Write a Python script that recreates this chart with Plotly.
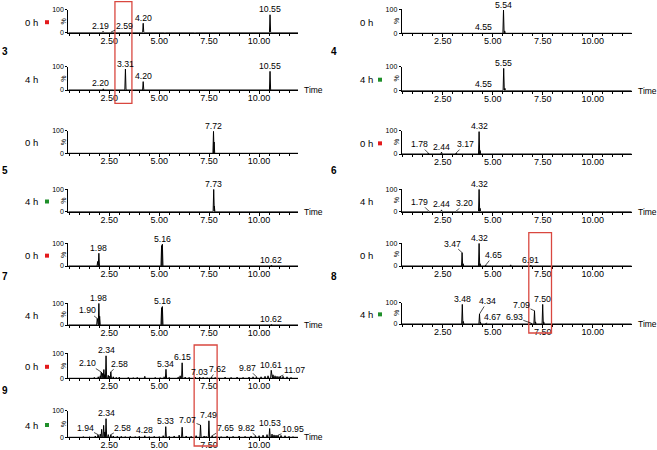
import plotly.graph_objects as go

# ---------------- data ----------------
x_tick_vals = [2.5, 5.0, 7.5, 10.0]
x_tick_text = ["2.50", "5.00", "7.50", "10.00"]
y_tick_vals = [0, 100]
y_tick_text = ["0", "100"]

compounds = ["3", "4", "5", "6", "7", "8", "9"]
sample_times = ["0 h", "4 h"]

# labelled peaks: retention time (min) and relative intensity (%)
c3_0h_rt = [2.19, 2.59, 4.20, 10.55]
c3_0h_int = [6, 3, 41, 78]
c3_4h_rt = [2.20, 3.31, 4.20, 10.55]
c3_4h_int = [5, 90, 36, 80]
c4_0h_rt = [4.55, 5.54]
c4_0h_int = [3, 97]
c4_4h_rt = [4.55, 5.55]
c4_4h_int = [3, 93]
c5_0h_rt = [7.72]
c5_0h_int = [97]
c5_4h_rt = [7.73]
c5_4h_int = [100]
c6_0h_rt = [1.78, 2.44, 3.17, 4.32]
c6_0h_int = [4, 8, 4, 96]
c6_4h_rt = [1.79, 2.44, 3.20, 4.32]
c6_4h_int = [4, 8, 4, 100]
c7_0h_rt = [1.98, 5.16, 10.62]
c7_0h_int = [56, 96, 4]
c7_4h_rt = [1.90, 1.98, 5.16, 10.62]
c7_4h_int = [30, 100, 85, 4]
c8_0h_rt = [3.47, 4.32, 4.65, 6.91]
c8_0h_int = [59, 100, 4, 4]
c8_4h_rt = [3.48, 4.34, 4.67, 6.93, 7.09, 7.50]
c8_4h_int = [92, 47, 4, 4, 62, 92]
c9_0h_rt = [2.10, 2.34, 2.58, 5.34, 6.15, 7.03, 7.62, 9.87, 10.61, 11.07]
c9_0h_int = [25, 90, 26, 36, 62, 5, 5, 6, 32, 8]
c9_4h_rt = [1.94, 2.34, 2.58, 4.28, 5.33, 7.07, 7.49, 7.65, 9.82, 10.53, 10.95]
c9_4h_int = [10, 70, 10, 6, 40, 46, 62, 6, 6, 33, 8]

# unlabelled minor peaks / baseline signal
c3_0h_minor_rt = [1.40, 2.75, 2.90, 3.60, 5.30, 6.80, 10.70, 11.20]
c3_0h_minor_int = [1, 2, 2, 1, 1, 1, 3, 2]
c3_4h_minor_rt = [2.75, 3.40, 10.70, 11.30]
c3_4h_minor_int = [2, 3, 3, 2]
c4_0h_minor_rt = [5.60]
c4_0h_minor_int = [10]
c4_4h_minor_rt = [5.61]
c4_4h_minor_int = [10]
c5_0h_minor_rt = [7.75]
c5_0h_minor_int = [50]
c5_4h_minor_rt = [7.76]
c5_4h_minor_int = [25]
c6_0h_minor_rt = [4.37, 8.50, 10.50, 11.00]
c6_0h_minor_int = [15, 2, 2, 2]
c6_4h_minor_rt = [4.37, 10.60, 11.10]
c6_4h_minor_int = [15, 2, 2]
c7_0h_minor_rt = [1.92, 5.12, 10.90, 11.30]
c7_0h_minor_int = [20, 90, 2, 2]
c7_4h_minor_rt = [2.02, 5.12, 11.00]
c7_4h_minor_int = [40, 80, 2]
c8_0h_minor_rt = [3.52, 4.37, 5.90, 6.20, 10.20]
c8_0h_minor_int = [10, 10, 5, 2, 1]
c8_4h_minor_rt = [3.53, 4.39, 7.14, 7.55, 10.50]
c8_4h_minor_int = [12, 8, 10, 10, 1]
c9_0h_minor_rt = [0.90, 1.20, 1.50, 1.75, 1.95, 2.05, 2.17, 2.23, 2.28, 2.45, 2.52,
                  2.70, 2.85, 3.00, 3.20, 3.45, 3.70, 3.90, 4.28, 4.50, 4.80, 5.05,
                  5.25, 5.50, 5.70, 5.95, 6.05, 6.30, 6.50, 6.80, 7.20, 7.40, 7.80,
                  8.00, 8.30, 8.60, 8.90, 9.20, 9.50, 9.70, 10.10, 10.30, 10.45,
                  10.70, 10.80, 10.90, 11.00, 11.20, 11.40, 11.60, 11.80]
c9_0h_minor_int = [2, 3, 2, 4, 6, 10, 20, 35, 15, 12, 8,
                   6, 4, 5, 3, 4, 3, 4, 8, 3, 4, 3,
                   6, 4, 3, 5, 10, 5, 4, 5, 4, 3, 4,
                   3, 5, 4, 5, 4, 5, 6, 6, 8, 10,
                   14, 10, 8, 7, 8, 6, 4, 3]
c9_4h_minor_rt = [0.90, 1.20, 1.50, 1.80, 2.05, 2.12, 2.22, 2.28, 2.45, 2.70, 2.90,
                  3.10, 3.30, 3.55, 3.80, 4.00, 4.50, 4.75, 5.00, 5.20, 5.50, 5.75,
                  6.00, 6.15, 6.35, 6.60, 6.85, 7.25, 7.35, 7.85, 8.10, 8.40, 8.70,
                  9.00, 9.30, 9.60, 10.00, 10.20, 10.40, 10.65, 10.75, 10.85,
                  11.10, 11.30, 11.50, 11.70]
c9_4h_minor_int = [2, 3, 2, 5, 12, 30, 45, 20, 10, 5, 4,
                   4, 3, 4, 3, 4, 3, 4, 3, 6, 4, 5,
                   8, 38, 5, 4, 6, 5, 4, 4, 3, 5, 4,
                   5, 4, 5, 6, 8, 10, 12, 9, 8,
                   7, 6, 4, 3]

# ---------------- layout / style (pixels in the 657x450 page) ----------------
W, H = 657, 450
X_RANGE = [0.45, 11.95]
COL_X = {"L": (68.3, 298.0), "R": (401.7, 631.7)}
PANELS = [  # key, compound, time index, rt, int, minor rt, minor int, column, top px, bottom px
    ("3_0", "3", 0, c3_0h_rt, c3_0h_int, c3_0h_minor_rt, c3_0h_minor_int, "L", 9.7, 32.7),
    ("3_4", "3", 1, c3_4h_rt, c3_4h_int, c3_4h_minor_rt, c3_4h_minor_int, "L", 66.7, 90.0),
    ("5_0", "5", 0, c5_0h_rt, c5_0h_int, c5_0h_minor_rt, c5_0h_minor_int, "L", 130.7, 153.3),
    ("5_4", "5", 1, c5_4h_rt, c5_4h_int, c5_4h_minor_rt, c5_4h_minor_int, "L", 189.3, 211.7),
    ("7_0", "7", 0, c7_0h_rt, c7_0h_int, c7_0h_minor_rt, c7_0h_minor_int, "L", 243.3, 266.0),
    ("7_4", "7", 1, c7_4h_rt, c7_4h_int, c7_4h_minor_rt, c7_4h_minor_int, "L", 303.3, 325.0),
    ("9_0", "9", 0, c9_0h_rt, c9_0h_int, c9_0h_minor_rt, c9_0h_minor_int, "L", 353.3, 378.3),
    ("9_4", "9", 1, c9_4h_rt, c9_4h_int, c9_4h_minor_rt, c9_4h_minor_int, "L", 410.7, 437.3),
    ("4_0", "4", 0, c4_0h_rt, c4_0h_int, c4_0h_minor_rt, c4_0h_minor_int, "R", 9.3, 33.3),
    ("4_4", "4", 1, c4_4h_rt, c4_4h_int, c4_4h_minor_rt, c4_4h_minor_int, "R", 66.7, 90.7),
    ("6_0", "6", 0, c6_0h_rt, c6_0h_int, c6_0h_minor_rt, c6_0h_minor_int, "R", 130.7, 154.0),
    ("6_4", "6", 1, c6_4h_rt, c6_4h_int, c6_4h_minor_rt, c6_4h_minor_int, "R", 189.3, 211.7),
    ("8_0", "8", 0, c8_0h_rt, c8_0h_int, c8_0h_minor_rt, c8_0h_minor_int, "R", 243.3, 266.0),
    ("8_4", "8", 1, c8_4h_rt, c8_4h_int, c8_4h_minor_rt, c8_4h_minor_int, "R", 302.7, 324.0),
]
MARKERS = {"3_0": "#e31a1c", "6_0": "#e31a1c", "7_0": "#e31a1c", "9_0": "#e31a1c",
           "4_4": "#1f8f2a", "5_4": "#1f8f2a", "8_4": "#1f8f2a", "9_4": "#1f8f2a"}
NUM_POS = {"3": ("L", 52), "5": ("L", 170), "7": ("L", 276), "9": ("L", 390),
           "4": ("R", 52), "6": ("R", 170), "8": ("R", 276)}
NUM_X = {"L": 4.5, "R": 334.0}
TIME_LABEL_X = {"L": 31.0, "R": 366.0}
MARK_X = {"L": 47.0, "R": 380.0}
# labels attached with a leader line: (dx, dy) in px from the peak apex
LEADERS = {
    ("3_0", 2.59): (13, -6),
    ("7_4", 1.90): (-10, -8),
    ("9_0", 2.10): (-14, -9), ("9_0", 2.58): (9, -8), ("9_0", 7.62): (6, -8),
    ("9_0", 9.87): (-9, -9), ("9_0", 11.07): (14, -6),
    ("9_4", 1.94): (-13, -7), ("9_4", 2.58): (12, -7), ("9_4", 7.07): (-13, -5),
    ("9_4", 7.65): (13, -8), ("9_4", 9.82): (-9, -8), ("9_4", 10.95): (15, -6),
    ("6_0", 1.78): (-9, -9), ("6_0", 3.17): (9, -9),
    ("6_4", 1.79): (-9, -9), ("6_4", 3.20): (8, -8),
    ("8_0", 3.47): (-10, -9), ("8_0", 4.65): (8, -10),
    ("8_4", 4.34): (8, -13), ("8_4", 4.67): (6, -6), ("8_4", 6.93): (-17, -6),
    ("8_4", 7.09): (-13, -6),
}
DIRECT_DX = {("3_0", 2.19): -3, ("3_4", 2.20): -3}
HIGHLIGHTS = [  # (panel whose x axis is used, t start, t end, top px, bottom px)
    ("3_0", 2.785, 3.635, 1.7, 103.3),
    ("8_0", 6.805, 7.94, 232.7, 333.0),
    ("9_0", 6.75, 7.90, 345.0, 446.0),
]
FONT = "Liberation Sans, Arial, sans-serif"
PEAK_HW = 0.03

def px_x(p):
    return p / W

def px_y(p):
    return 1 - p / H

fig = go.Figure()
layout = dict(template="none", width=W, height=H, margin=dict(l=0, r=0, t=0, b=0, autoexpand=False),
              paper_bgcolor="white", plot_bgcolor="white", showlegend=False,
              font=dict(family=FONT, color="black"))
annotations = []
shapes = []
axis_of = {}

for i, (key, comp, ti, rts, ints, mrts, mints, col, top, bot) in enumerate(PANELS):
    n = i + 1
    xa = "x" if n == 1 else f"x{n}"
    ya = "y" if n == 1 else f"y{n}"
    axis_of[key] = (xa, ya)
    # build chromatogram trace from peaks
    peaks = sorted(list(zip(rts, ints)) + list(zip(mrts, mints)))
    xs, ys = [X_RANGE[0]], [0]
    for t, h in peaks:
        xs += [t - PEAK_HW, t, t + PEAK_HW]
        ys += [0, h, 0]
    xs.append(X_RANGE[1])
    ys.append(0)
    fig.add_trace(go.Scatter(x=xs, y=ys, mode="lines", xaxis=xa, yaxis=ya,
                             line=dict(color="black", width=1), hoverinfo="skip"))
    x0, x1 = COL_X[col]
    layout["xaxis" if n == 1 else f"xaxis{n}"] = dict(
        domain=[px_x(x0), px_x(x1)], range=X_RANGE, anchor=ya, automargin=False,
        showgrid=False, zeroline=False, showline=True, linecolor="black", linewidth=1,
        tickmode="array", tickvals=x_tick_vals, ticktext=x_tick_text,
        ticks="outside", ticklen=3, tickwidth=1, tickcolor="black",
        tickfont=dict(size=9, family=FONT), ticklabelstandoff=-4,
        minor=dict(tickmode="linear", tick0=0, dtick=0.5, ticks="outside",
                   ticklen=2, tickwidth=1, tickcolor="black"))
    layout["yaxis" if n == 1 else f"yaxis{n}"] = dict(
        domain=[px_y(bot), px_y(top)], range=[0, 100], anchor=xa, automargin=False,
        showgrid=False, zeroline=False, showline=True, linecolor="black", linewidth=1,
        tickmode="array", tickvals=y_tick_vals, ticktext=y_tick_text,
        ticks="outside", ticklen=2, tickwidth=1, tickcolor="black",
        tickfont=dict(size=7, family=FONT))
    # "%" axis label
    annotations.append(dict(xref="paper", yref="paper", x=px_x(x0 - 5), y=px_y((top + bot) / 2),
                            text="%", textangle=-90, showarrow=False,
                            font=dict(size=7, family=FONT), xanchor="center", yanchor="middle"))
    # peak labels
    for t, h in zip(rts, ints):
        txt = f"{t:.2f}"
        if (key, t) in LEADERS:
            dx, dy = LEADERS[(key, t)]
            annotations.append(dict(xref=xa, yref=ya, x=t, y=h, text=txt, showarrow=True,
                                    ax=dx, ay=dy, arrowhead=0, arrowwidth=0.7,
                                    arrowcolor="black", standoff=0, borderpad=0,
                                    font=dict(size=8.7, family=FONT)))
        else:
            annotations.append(dict(xref=xa, yref=ya, x=t, y=h, text=txt, showarrow=False,
                                    xshift=DIRECT_DX.get((key, t), 0), yshift=5.5,
                                    xanchor="center", yanchor="middle", borderpad=0,
                                    font=dict(size=8.7, family=FONT)))
    # sample time label
    ymid = (top + bot) / 2 + 1
    annotations.append(dict(xref="paper", yref="paper", x=px_x(TIME_LABEL_X[col]), y=px_y(ymid),
                            text=sample_times[ti], showarrow=False, xanchor="center",
                            yanchor="middle", font=dict(size=9.5, family=FONT)))
    if key in MARKERS:
        mx = MARK_X[col]
        shapes.append(dict(type="rect", xref="paper", yref="paper",
                           x0=px_x(mx - 2), x1=px_x(mx + 2), y0=px_y(ymid + 2), y1=px_y(ymid - 2),
                           fillcolor=MARKERS[key], line=dict(width=0)))
    if ti == 1:
        annotations.append(dict(xref="paper", yref=ya, x=px_x(x1 + 4), y=0, text="Time",
                                showarrow=False, xanchor="left", yanchor="middle",
                                font=dict(size=8.5, family=FONT)))

for comp, (col, yp) in NUM_POS.items():
    annotations.append(dict(xref="paper", yref="paper", x=px_x(NUM_X[col]), y=px_y(yp),
                            text=f"<b>{comp}</b>", showarrow=False, xanchor="center",
                            yanchor="middle", font=dict(size=10, family=FONT)))

for key, t0, t1, top, bot in HIGHLIGHTS:
    xa, _ = axis_of[key]
    shapes.append(dict(type="rect", xref=xa, yref="paper", x0=t0, x1=t1,
                       y0=px_y(bot), y1=px_y(top), line=dict(color="#d9473f", width=1.3),
                       fillcolor="rgba(0,0,0,0)", layer="above"))

layout["annotations"] = annotations
layout["shapes"] = shapes
fig.update_layout(**layout)
fig.write_html("out.html", config={"displayModeBar": False},
               post_script="document.body.style.margin='0';document.body.style.overflow='hidden';")
